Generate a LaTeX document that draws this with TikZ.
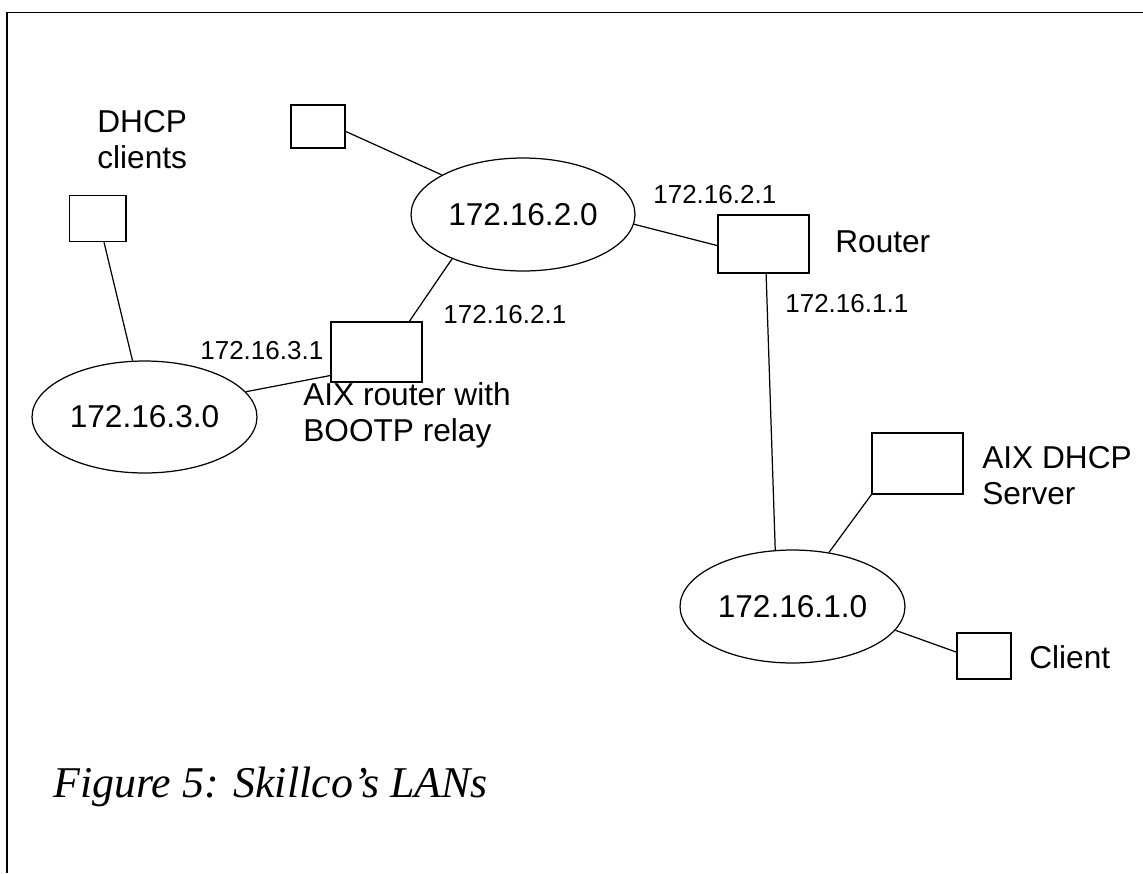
\documentclass[tikz,border=0pt]{standalone}
\usepackage{fontspec}
\setmainfont{Liberation Sans}
\newfontfamily\capfont{Liberation Serif}
\usetikzlibrary{shapes.geometric}
\tikzset{
  lan/.style={ellipse,draw,line width=0.7pt,inner sep=0pt,
    minimum width=4.5cm,minimum height=2.26cm,font=\fontsize{18}{21}\selectfont},
  host/.style={rectangle,draw,line width=0.7pt,inner sep=0pt},
  hostS/.style={host,minimum width=1.1cm,minimum height=0.9cm},
  hostL/.style={host,minimum width=1.82cm,minimum height=1.2cm},
  lbl/.style={inner sep=0pt,align=left,font=\fontsize{18}{20.4}\selectfont},
  addr/.style={inner sep=0pt,font=\fontsize{14.8}{17}\selectfont},
  link/.style={line width=0.7pt}
}
\begin{document}
\begin{tikzpicture}[x=0.02cm,y=-0.02cm]
  \useasboundingbox (0,0) rectangle (1143,873);
  \draw[line width=1pt] (7,873) -- (7,12.5) -- (1143,12.5);
  % LAN segments
  \node[lan,minimum width=4.48cm] (lan2) at (523,214.5) {172.16.2.0};
  \node[lan,minimum height=2.24cm] (lan3) at (144.5,417) {172.16.3.0};
  \node[lan] (lan1) at (792.5,606.5) {172.16.1.0};
  % hosts and routers
  \node[hostS,minimum width=1.08cm,minimum height=0.86cm] (hostA) at (318,126.5) {};
  \node[hostS,minimum width=1.13cm,minimum height=0.92cm] (clnt3) at (97.7,218.7) {};
  \node[hostL] (aixrtr) at (376.5,352) {};
  \node[hostL,minimum height=1.16cm] (rtr) at (763.5,244) {};
  \node[hostL,minimum height=1.22cm] (dhcpsrv) at (917.5,463.5) {};
  \node[hostS,minimum width=1.08cm,minimum height=0.92cm] (clnt1) at (984,656) {};
  % labels
  \node[lbl,anchor=north west] (lblclnt3) at (97,110) {DHCP\\clients};
  \node[lbl,anchor=north west] (lblaix) at (303,382) {AIX router with\\BOOTP relay};
  \node[lbl,anchor=base west] (lblrtr) at (835,252) {Router};
  \node[lbl,anchor=north west] (lblsrv) at (982,446) {AIX DHCP\\Server};
  \node[lbl,anchor=base west] (lblclnt1) at (1029,668) {Client};
  \node[addr,anchor=base west] (ip21a) at (653,203) {172.16.2.1};
  \node[addr,anchor=base west] (ip21b) at (443,323) {172.16.2.1};
  \node[addr,anchor=base west] (ip31) at (200,359) {172.16.3.1};
  \node[addr,anchor=base west] (ip11) at (785,312) {172.16.1.1};
  \node[anchor=base west,inner sep=0pt,font=\capfont\itshape\fontsize{25}{30}\selectfont]
    (caption) at (53,797) {Figure 5: Skillco’s LANs};
  % links
  \draw[link] (hostA.-10) -- (lan2.154);
  \draw[link] (clnt3.-75) -- (lan3.102);
  \draw[link] (lan2.212) -- (aixrtr.43);
  \draw[link] (lan2.-5) -- (rtr.182);
  \draw[link] (lan3.14) -- (aixrtr.207);
  \draw[link] (rtr.-85) -- (lan1.107);
  \draw[link] (dhcpsrv.south west) -- (lan1.56);
  \draw[link] (lan1.-13) -- (clnt1.172);
\end{tikzpicture}
\end{document}
